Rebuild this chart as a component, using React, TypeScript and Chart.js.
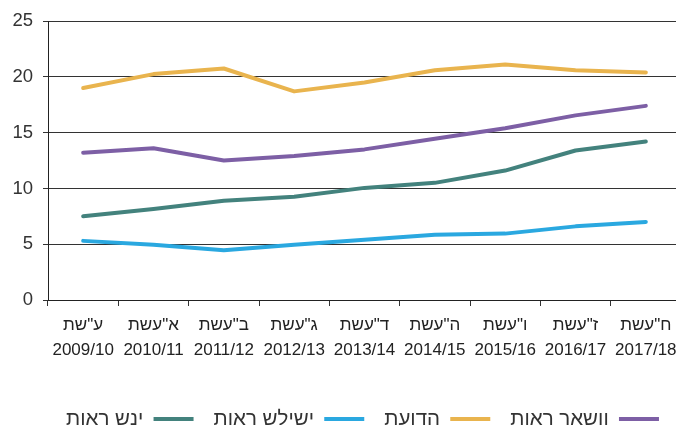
import React, { useEffect, useRef } from "react";
import { Chart, registerables } from "chart.js";

Chart.register(...registerables);

const hebrewYears = ['תש"ע', 'תשע"א', 'תשע"ב', 'תשע"ג', 'תשע"ד', 'תשע"ה', 'תשע"ו', 'תשע"ז', 'תשע"ח'];
const schoolYears = ["2009/10", "2010/11", "2011/12", "2012/13", "2013/14", "2014/15", "2015/16", "2016/17", "2017/18"];

const bachelor = [13.2, 13.6, 12.5, 12.9, 13.5, 14.45, 15.4, 16.55, 17.4];
const certificate = [19.0, 20.25, 20.75, 18.7, 19.5, 20.6, 21.1, 20.6, 20.4];
const doctorate = [5.3, 4.95, 4.45, 4.95, 5.4, 5.85, 5.95, 6.6, 7.0];
const master = [7.5, 8.15, 8.9, 9.25, 10.05, 10.5, 11.6, 13.4, 14.2];

const seriesNames = ["תואר ראשון", "תעודה", "תואר שלישי", "תואר שני"];
const seriesColors = ["#7d5fa5", "#e9b44e", "#2aa8e0", "#43827d"];

const FONT = "'Liberation Sans', Arial, sans-serif";

// The reference lays the Hebrew letters out left-to-right in logical order;
// left-to-right marks between characters reproduce that visual order without changing the letters.
const visualLtr = (s: string) => "\u200E" + Array.from(s).join("\u200E") + "\u200E";

export default function App() {
  const ref = useRef<HTMLCanvasElement | null>(null);

  useEffect(() => {
    if (!ref.current) return;
    const values = [bachelor, certificate, doctorate, master];
    const chart = new Chart(ref.current, {
      type: "line",
      data: {
        labels: hebrewYears.map((h, i) => [visualLtr(h), schoolYears[i]]),
        datasets: values.map((v, i) => ({
          label: visualLtr(seriesNames[i]),
          data: v,
          borderColor: seriesColors[i],
          backgroundColor: seriesColors[i],
          borderWidth: 4,
          pointRadius: 0,
          borderCapStyle: "round" as const,
          borderJoinStyle: "round" as const,
          tension: 0,
          yAxisID: "y",
        })),
      },
      options: {
        responsive: false,
        animation: false,
        layout: { padding: { left: 12, right: 0, top: 8, bottom: -14.25 } },
        plugins: {
          tooltip: { enabled: false },
          legend: {
            position: "bottom",
            rtl: true,
            labels: {
              usePointStyle: true,
              pointStyle: "line",
              pointStyleWidth: 40,
              padding: 20,
              color: "#333",
              font: { family: FONT, size: 20.5 },
            },
          },
        },
        scales: {
          x: {
            offset: true,
            grid: { offset: true, drawOnChartArea: false, drawTicks: true, tickLength: 6, color: "#333" },
            border: { color: "#222", width: 1 },
            afterFit: (s: any) => {
              s.height = 88.75;
            },
            ticks: {
              autoSkip: false,
              maxRotation: 0,
              padding: 7,
              color: "#222",
              font: { family: FONT, size: 17, lineHeight: 1.45 },
            },
          },
          y: {
            min: 0,
            max: 25,
            afterFit: (s: any) => {
              s.width = 36;
            },
            grid: { color: "#333", tickLength: 5, lineWidth: 1 },
            border: { color: "#222", width: 1 },
            ticks: {
              stepSize: 5,
              padding: 10,
              color: "#333",
              font: { family: FONT, size: 18.5 },
            },
          },
          spacer: {
            type: "linear",
            position: "right",
            min: 0,
            max: 1,
            grid: { display: false, drawTicks: false },
            border: { display: false },
            ticks: { display: false },
            afterFit: (s: any) => {
              s.width = 32;
            },
          },
        },
      },
    });
    return () => chart.destroy();
  }, []);

  return (
    <div style={{ position: "absolute", left: 0, top: 0, width: 676, height: 425, overflow: "hidden", background: "#fff" }}>
      <canvas ref={ref} width={713} height={425} style={{ display: "block", width: 713, height: 425 }} />
    </div>
  );
}
